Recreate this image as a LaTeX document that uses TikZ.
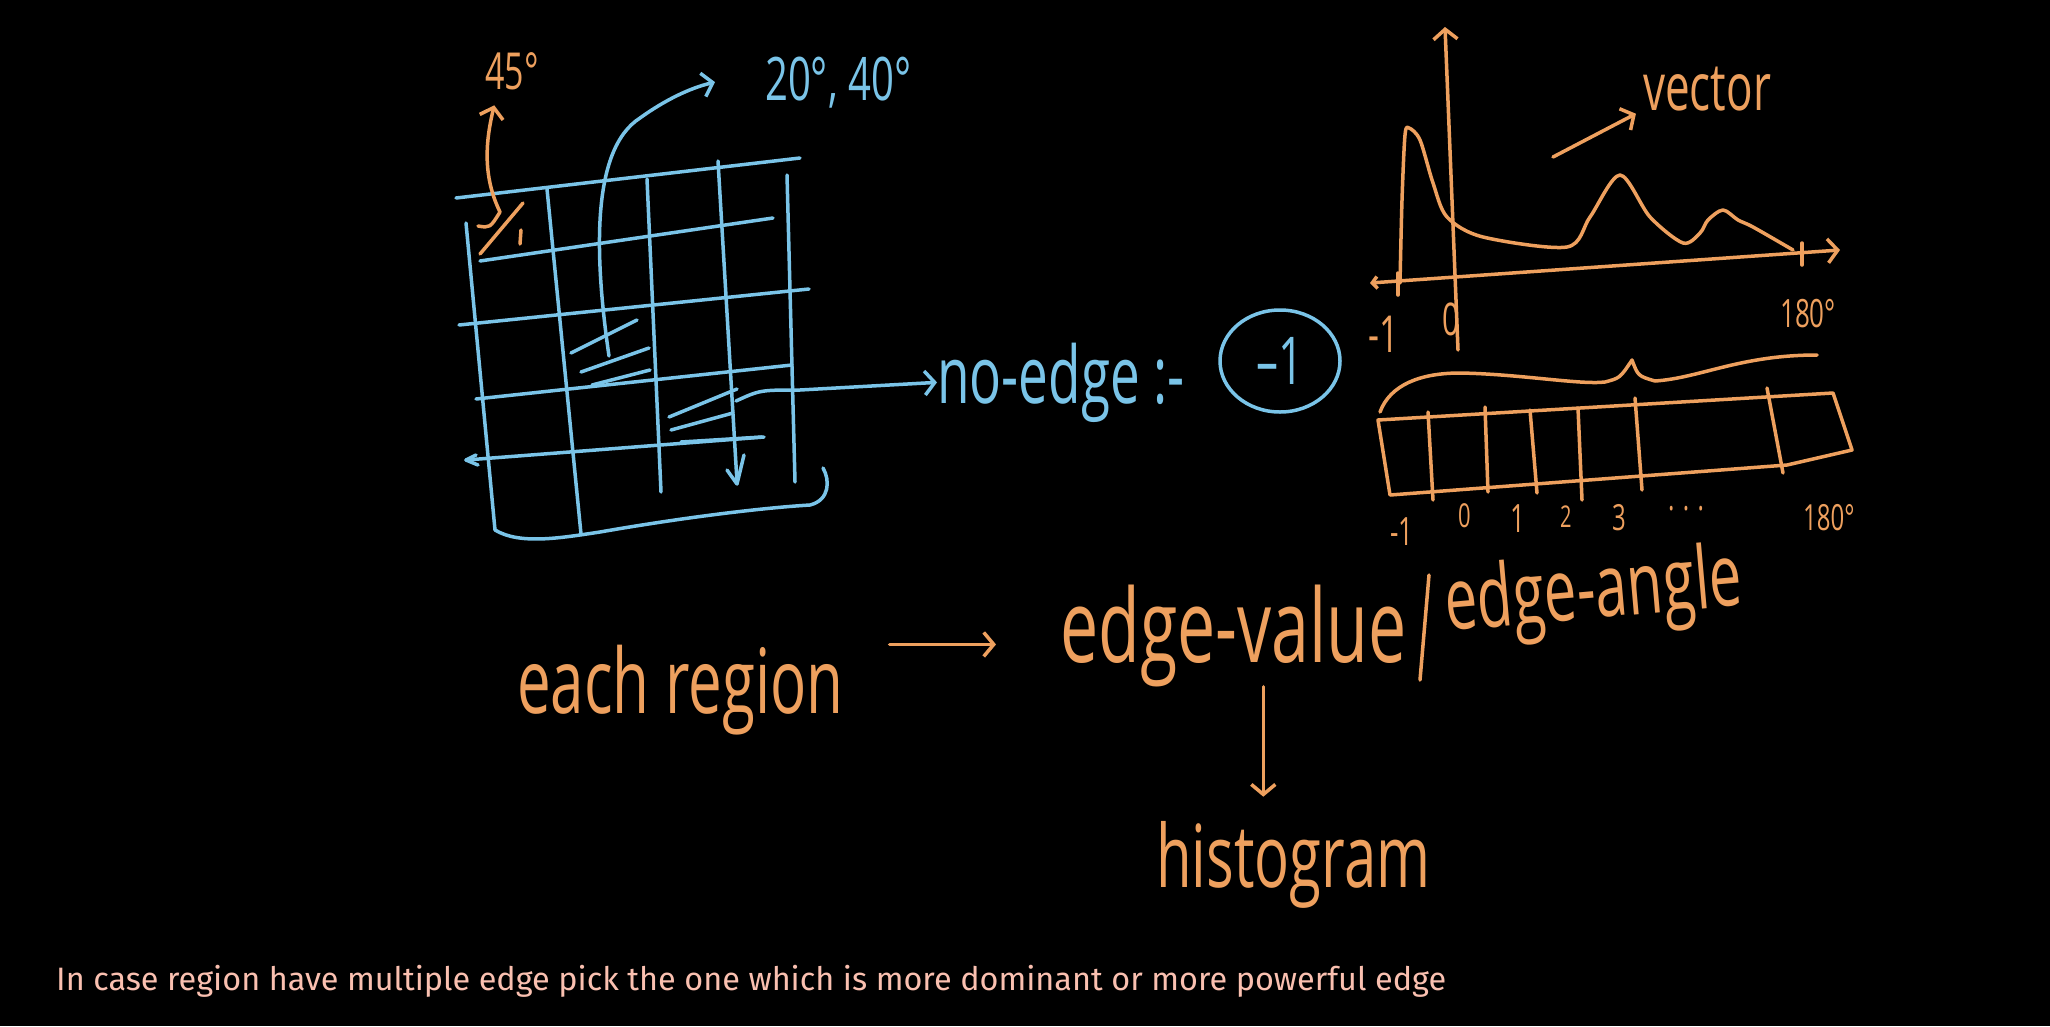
\documentclass[tikz,border=0pt]{standalone}
\usepackage{fontspec}
\usepackage{xcolor}
\usepackage{tikz}
\usetikzlibrary{arrows.meta, shapes.geometric, positioning}
\setmainfont{Open Sans}
\newfontfamily\handfont[FakeStretch=0.667]{Open Sans}
\newfontfamily\capfont{Fira Sans}

\definecolor{sky}{RGB}{122,196,232}
\definecolor{amber}{RGB}{238,160,94}
\definecolor{blush}{RGB}{250,192,176}

\tikzset{
  ink/.style={line width=3.5pt, line cap=round, line join=round},
  barb/.style={-{Straight Barb[length=10pt, width=24pt]}},
  hw/.style={inner sep=0pt, anchor=base west, font=\handfont\fontsize{#1}{#1}\selectfont},
}

\begin{document}
\begin{tikzpicture}[x=1pt, y=-1pt]
  % ---- backdrop ----
  \fill[black] (0,0) rectangle (2050,1026);
  \useasboundingbox (0,0) rectangle (2050,1026);

  % ---- grid over the image: rows ----
  \foreach \xa/\ya/\xb/\yb in {456/198/800/158, 480/261/773/218, 459/325/809/289, 476/399/792/365, 466/460/764/437} {
    \draw[ink, sky] (\xa,\ya) -- (\xb,\yb);
  }
  % ---- grid over the image: columns ----
  \foreach \xa/\ya/\xb/\yb in {466/223/495/530, 547/189/581/534, 647/179/661/492, 718/161/737/482, 787/175/795/482} {
    \draw[ink, sky] (\xa,\ya) -- (\xb,\yb);
  }
  \draw[ink, sky] (495,530) .. controls (520,545) and (560,538) .. (600,532)
    .. controls (680,518) and (760,508) .. (810,505) .. controls (830,500) and (830,480) .. (823,468);
  \draw[ink, sky] (476,455) -- (466,460) -- (478,465);
  \draw[ink, sky] (727,470) -- (737,484) -- (744,455);

  % ---- hatching in two cells ----
  \foreach \xa/\ya/\xb/\yb in {571/353/637/320, 581/372/649/348, 592/385/650/370, 669/417/737/389, 671/430/733/413, 681/442/762/437} {
    \draw[ink, sky] (\xa,\ya) -- (\xb,\yb);
  }

  % ---- angles of the cell ----
  \node[hw=60, text=sky] (angB) at (765,100) {20°, 40°};
  \coordinate[left=50pt of angB.west] (angBin);
  \coordinate (hatchtop) at (609,356);
  \draw[ink, sky, barb] (hatchtop) .. controls (595,260) and (590,150) .. (640,118)
    .. controls (665,100) and (690,88) .. (angBin);

  \node[hw=51, text=amber] (angA) at (485,89) {45°};
  \coordinate (corner) at (500,212);
  \draw[ink, amber] (480,254) -- (523,203);
  \draw[ink, amber] (521,230) -- (520,244);
  \draw[ink, amber] (478,226) .. controls (490,228) .. (corner);
  \draw[ink, amber, barb, shorten >=16pt] (corner) .. controls (482,175) and (486,140) .. ([xshift=-14pt]angA.south);

  % ---- no edge ----
  \node[hw=79.5, text=sky] (noedge) at (937,403) {no-edge :-};
  \node[draw=sky, ink, ellipse, minimum width=120pt, minimum height=102pt, inner sep=0pt,
        text=sky, font=\handfont\fontsize{66}{66}\selectfont] (nonval) at (1280,361) {–1};
  \coordinate (gridout) at (736,401);
  \draw[ink, sky, barb] (gridout) .. controls (760,390) .. (800,390) -- (noedge.west);

  % ---- angle chart ----
  \draw[ink, amber, barb] (1458,350) .. controls (1452,200) .. (1445,27);
  \draw[ink, amber, {Straight Barb[length=5pt, width=12pt]}-{Straight Barb[length=10pt, width=24pt]}] (1370,283) -- (1840,250);
  \draw[ink, amber] (1398,273) -- (1398,295);
  \draw[ink, amber] (1802,243) -- (1802,265);
  \draw[ink, amber] plot[smooth, tension=0.5] coordinates {(1400,283) (1402,200) (1405,135) (1409,128) (1420,140)
    (1433,183) (1447,217) (1483,237) (1567,247) (1590,217) (1620,175) (1650,217) (1683,243) (1700,233)
    (1708,220) (1723,210) (1738,220) (1753,227) (1793,250)};
  \node[hw=51, text=amber] (chmin) at (1368,352) {-1};
  \node[hw=45, text=amber] (chzero) at (1442,335) {0};
  \node[hw=39, text=amber] (chmax) at (1780,327) {180°};

  \node[hw=66, text=amber] (vecl) at (1643,110) {vector};
  \coordinate (vecfrom) at (1553,157);
  \draw[ink, amber, barb, shorten >=8pt] (vecfrom) -- (vecl.base west);

  % ---- bins of the histogram ----
  \draw[ink, amber] (1380,412) .. controls (1390,385) and (1420,373) .. (1460,373)
    .. controls (1520,374) and (1580,385) .. (1605,382) .. controls (1620,378) .. (1632,360)
    .. controls (1638,376) .. (1655,381) .. controls (1700,378) and (1740,355) .. (1817,355);
  \draw[ink, amber] (1378,420) -- (1833,393) -- (1852,450) -- (1787,465) -- (1390,495) -- cycle;
  \foreach \xa/\ya/\xb/\yb in {1428/412/1433/500, 1485/407/1488/492, 1530/410/1537/493, 1578/408/1582/500, 1635/398/1642/490, 1767/388/1783/473} {
    \draw[ink, amber] (\xa,\ya) -- (\xb,\yb);
  }
  \foreach \x/\y/\s/\lab in {1390/545/39/{-1}, 1458/527/33/0, 1510/532/39/1, 1560/527/30/2, 1612/530/36/3, 1668/510/36/{. . .}, 1803/530/36/{180°}} {
    \node[hw=\s, text=amber] at (\x,\y) {\lab};
  }

  % ---- each region ----
  \node[hw=90, text=amber] (region) at (517,713) {each region};
  \node[hw=102, text=amber] (edgeval) at (1060,662) {edge-value};
  \node[hw=87, text=amber, rotate=5] (edgeang) at (1447,631) {edge-angle};
  \node[hw=87, text=amber] (hist) at (1156,887) {histogram};
  \draw[ink, amber] (1429,575) -- (1420,680);
  \draw[ink, amber, barb, shorten <=46pt, shorten >=64pt] (region.north east) -- (region.north east -| edgeval.west);
  \coordinate (valdrop) at ([xshift=30pt]edgeval.south);
  \draw[ink, amber, barb, shorten >=24pt] (valdrop) -- (valdrop |- hist.north);

  \node[anchor=base west, inner sep=0pt, text=blush, font=\capfont\fontsize{32.4}{32.4}\selectfont] (note) at (56,990)
    {In case region have multiple edge pick the one which is more dominant or more powerful edge};
\end{tikzpicture}
\end{document}
